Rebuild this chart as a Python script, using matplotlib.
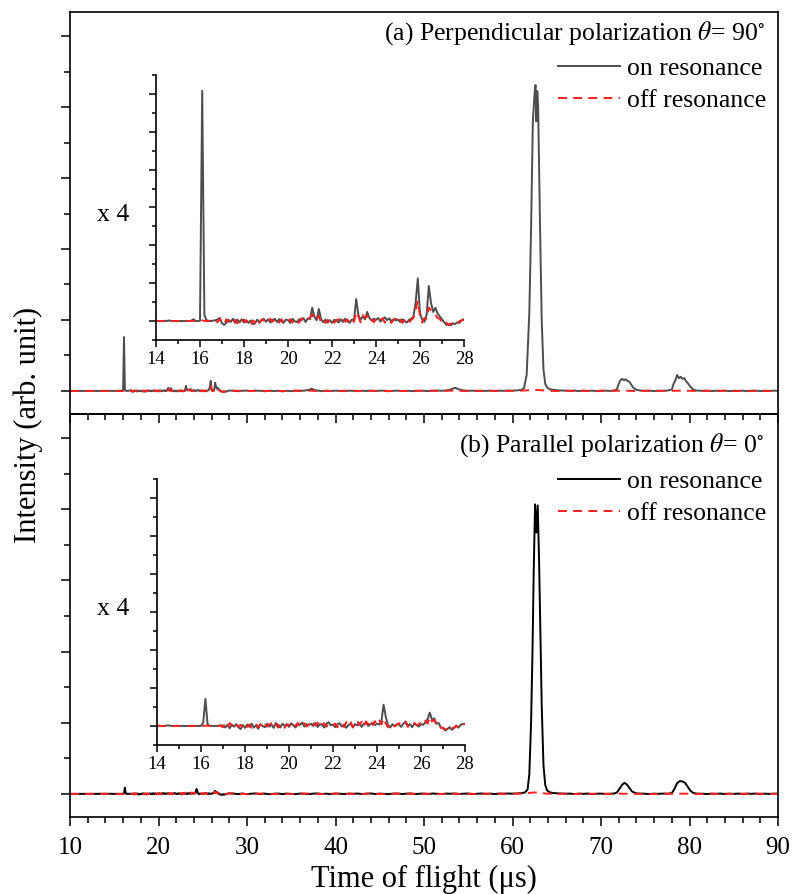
import numpy as np
import matplotlib
matplotlib.use("Agg")
import matplotlib.pyplot as plt
from matplotlib.ticker import MultipleLocator, NullFormatter

plt.rcParams['font.family'] = ['Liberation Serif', 'DejaVu Serif']
plt.rcParams['mathtext.fontset'] = 'stix'

# ---------------- data (main-panel units; inset shows x4) ----------------
fine_t = np.round(np.arange(14.0, 28.05, 0.1), 2)   # sampling grid of the 14-28 us window

top_on_fine = [
    0.000, 0.001, 0.000, 0.000, 0.002, 0.001, 0.004, 0.001, 0.000, 0.000,   # 14
    0.000, 0.001, 0.000, 0.000, 0.001, 0.000, 0.002, 0.012, 0.001, 0.000,   # 15
    0.002, 1.520, 0.040, 0.004, 0.002, 0.000, 0.003, 0.005, 0.012, 0.020,   # 16
    -0.015, -0.025, -0.010, 0.008, -0.005, 0.015, -0.012, 0.010, -0.008, 0.012,  # 17
    -0.010, 0.006, -0.012, 0.004, -0.020, -0.015, 0.010, -0.008, 0.006, 0.015,  # 18
    -0.005, 0.012, -0.010, 0.008, 0.015, -0.006, 0.012, 0.000, -0.012, 0.010,   # 19
    0.006, -0.012, 0.015, 0.000, -0.008, 0.012, 0.004, 0.020, -0.006, 0.018,    # 20
    0.012, 0.088, 0.030, 0.005, 0.080, 0.015, -0.008, 0.010, -0.010, 0.006,     # 21
    -0.012, 0.008, 0.004, -0.010, 0.012, -0.006, 0.015, 0.000, -0.012, 0.010,   # 22
    0.005, 0.145, 0.040, 0.010, 0.030, 0.012, 0.060, 0.020, 0.004, 0.015,       # 23
    0.008, 0.020, -0.004, 0.012, 0.025, 0.006, 0.018, 0.000, 0.012, 0.005,      # 24
    0.010, -0.006, 0.012, 0.000, -0.010, 0.008, 0.015, 0.030, 0.120, 0.282,     # 25
    0.050, 0.010, -0.005, 0.040, 0.232, 0.120, 0.060, 0.088, 0.050, 0.030,      # 26
    0.012, -0.008, -0.025, -0.020, -0.028, -0.015, -0.020, -0.008, -0.012, 0.008,  # 27
    0.012]

top_off_fine = [
    0.000, 0.001, 0.000, 0.000, 0.000, 0.001, 0.000, 0.000, 0.001, 0.000,
    0.000, 0.000, 0.001, 0.000, 0.000, 0.001, 0.000, 0.002, 0.000, 0.000,
    0.001, 0.004, 0.002, 0.000, 0.001, 0.000, 0.002, 0.006, -0.008, 0.015,
    -0.010, -0.020, 0.012, -0.005, 0.010, -0.012, 0.008, -0.015, 0.012, -0.006,
    0.010, -0.008, 0.012, -0.018, 0.005, -0.010, 0.015, -0.012, 0.010, 0.004,
    0.012, -0.008, 0.015, -0.004, 0.010, 0.016, -0.010, 0.012, -0.006, 0.008,
    -0.004, 0.012, -0.010, 0.014, 0.006, -0.012, 0.018, 0.008, 0.015, 0.010,
    0.020, 0.045, 0.008, 0.012, 0.035, -0.006, 0.010, -0.012, 0.008, -0.010,
    0.010, -0.012, 0.006, 0.012, -0.010, 0.008, -0.004, 0.010, -0.008, 0.012,
    -0.006, 0.060, 0.030, -0.008, 0.040, 0.020, 0.035, -0.004, 0.010, -0.008,
    0.012, -0.006, 0.010, 0.018, -0.010, 0.012, 0.004, -0.012, 0.008, 0.015,
    -0.008, 0.010, -0.012, 0.006, 0.014, -0.010, 0.008, 0.020, 0.070, 0.135,
    0.030, -0.010, 0.020, 0.015, 0.090, 0.070, 0.050, 0.040, 0.020, 0.015,
    -0.010, -0.020, -0.010, -0.028, -0.015, -0.022, -0.010, -0.015, 0.000, 0.004,
    0.008]

bot_on_fine = [
    0.000, 0.001, 0.000, 0.000, 0.002, 0.004, 0.002, 0.000, 0.000, 0.001,
    0.000, 0.000, 0.001, 0.000, 0.000, 0.001, 0.000, 0.000, 0.001, 0.000,
    0.001, 0.020, 0.178, 0.010, 0.002, 0.000, 0.001, 0.000, 0.002, 0.004,
    0.003, -0.010, 0.008, -0.015, 0.010, -0.005, 0.012, -0.008, -0.020, 0.006,
    -0.012, 0.010, -0.006, 0.015, -0.010, 0.004, -0.018, 0.012, 0.000, -0.008,
    0.015, -0.004, 0.010, -0.012, 0.020, 0.006, -0.010, 0.015, 0.000, 0.012,
    -0.006, 0.018, 0.004, -0.010, 0.015, 0.008, 0.022, -0.004, 0.012, 0.006,
    0.015, 0.000, 0.020, -0.006, 0.012, 0.008, -0.010, 0.014, 0.025, 0.004,
    0.010, -0.008, 0.012, 0.018, -0.004, 0.010, -0.012, 0.006, 0.014, -0.008,
    0.012, 0.004, 0.018, -0.006, 0.015, 0.022, 0.000, 0.012, 0.020, 0.006,
    0.015, 0.010, 0.030, 0.140, 0.060, 0.005, -0.010, 0.012, 0.000, 0.008,
    0.010, -0.006, 0.015, 0.030, 0.004, 0.012, -0.008, 0.018, 0.006, -0.004,
    0.012, 0.008, 0.025, 0.045, 0.088, 0.040, 0.050, 0.015, 0.020, -0.010,
    -0.015, -0.030, -0.020, -0.008, -0.025, -0.012, 0.000, -0.010, 0.008, 0.012,
    0.015]

bot_off_fine = [
    0.004, 0.002, 0.000, 0.001, 0.000, 0.001, 0.000, 0.000, 0.000, 0.001,
    0.000, 0.000, 0.001, 0.000, 0.000, 0.000, 0.001, 0.000, 0.000, 0.000,
    0.001, 0.000, 0.002, 0.001, 0.000, 0.001, 0.000, 0.000, 0.002, 0.000,
    -0.008, 0.015, -0.010, 0.020, 0.006, -0.012, 0.010, -0.004, 0.008, -0.010,
    0.012, -0.006, 0.010, -0.012, 0.004, 0.015, -0.008, 0.010, -0.014, 0.006,
    -0.004, 0.010, 0.018, -0.008, 0.012, -0.010, 0.015, 0.004, -0.012, 0.010,
    0.008, -0.006, 0.015, 0.000, 0.020, -0.008, 0.012, 0.018, -0.004, 0.010,
    -0.006, 0.015, 0.004, 0.022, -0.008, 0.012, 0.018, -0.004, 0.010, 0.020,
    0.006, 0.015, -0.008, 0.012, 0.020, -0.006, 0.025, 0.010, 0.030, -0.010,
    0.020, 0.035, 0.005, 0.028, -0.004, 0.030, 0.012, 0.040, 0.008, 0.032,
    0.015, 0.042, 0.010, 0.050, 0.015, -0.008, 0.010, 0.020, -0.004, 0.012,
    0.018, 0.000, 0.012, 0.025, -0.006, 0.015, 0.008, 0.020, 0.004, 0.012,
    0.020, 0.010, 0.035, 0.015, 0.060, 0.030, 0.040, 0.010, 0.015, -0.012,
    -0.010, -0.025, -0.012, -0.020, -0.008, -0.015, 0.004, -0.010, 0.006, 0.010,
    0.012]

lead_t = [10.0, 12.0]
lead_y = [0.0, 0.0]

top_on_tail = [
    (28.5, 0.005), (29, -0.008), (29.5, 0.006), (30, 0.010), (30.5, -0.005), (31, 0.008),
    (31.5, 0.004), (32, -0.008), (32.5, 0.006), (33, -0.004), (33.5, 0.005), (34, -0.010),
    (34.5, 0.004), (35, -0.006), (35.5, 0.008), (36, 0.000), (36.5, 0.010), (37, 0.030),
    (37.3, 0.065), (37.6, 0.030), (38, 0.008), (38.5, -0.005), (39, 0.006), (39.5, -0.004),
    (40, 0.008), (40.5, 0.000), (41, -0.006), (41.5, 0.006), (42, 0.004), (42.5, -0.008),
    (43, 0.006), (43.5, 0.000), (44, 0.008), (44.5, -0.004), (45, 0.006), (45.5, 0.010),
    (46, -0.006), (46.5, 0.004), (47, 0.008), (47.5, -0.004), (48, 0.006), (48.5, 0.000),
    (49, -0.006), (49.5, 0.008), (50, 0.004), (50.5, -0.004), (51, 0.006), (51.5, 0.010),
    (52, 0.004), (52.5, 0.012), (53, 0.040), (53.5, 0.090), (54, 0.040), (54.5, 0.012),
    (55, 0.004), (55.5, 0.008), (56, -0.004), (56.5, 0.006), (57, 0.000), (57.5, 0.008),
    (58, -0.004), (58.5, 0.006), (59, 0.004), (59.5, 0.010), (60, 0.006), (60.5, 0.015),
    (61, 0.030), (61.3, 0.080), (61.6, 0.45), (61.9, 2.2), (62.1, 4.6), (62.3, 7.6),
    (62.5, 8.4), (62.6, 8.62), (62.7, 7.6), (62.8, 8.45), (62.9, 8.0), (63.1, 4.8),
    (63.3, 2.0), (63.5, 0.60), (63.7, 0.20), (63.9, 0.10), (64.2, 0.050), (64.6, 0.030),
    (65, 0.020), (65.5, 0.012), (66, 0.008), (66.5, 0.004), (67, 0.010), (67.5, -0.004),
    (68, 0.006), (68.5, 0.000), (69, 0.008), (69.5, -0.006), (70, 0.004), (70.5, 0.008),
    (71, 0.000), (71.5, 0.010), (71.8, 0.050), (72.0, 0.20), (72.2, 0.30), (72.4, 0.34),
    (72.6, 0.30), (72.8, 0.33), (73.0, 0.28), (73.2, 0.26), (73.4, 0.18), (73.7, 0.08),
    (74.0, 0.030), (74.5, 0.010), (75, 0.004), (75.5, 0.008), (76, -0.004), (76.5, 0.006),
    (77, 0.002), (77.5, 0.010), (78.0, 0.040), (78.2, 0.20), (78.4, 0.30), (78.6, 0.45),
    (78.8, 0.36), (79.0, 0.40), (79.2, 0.34), (79.4, 0.36), (79.6, 0.28), (79.8, 0.22),
    (80.1, 0.12), (80.4, 0.040), (80.8, 0.010), (81.5, 0.004), (82, 0.008), (82.5, -0.004),
    (83, 0.006), (83.5, 0.002), (84, 0.008), (84.5, -0.004), (85, 0.006), (85.5, 0.000),
    (86, 0.008), (86.5, -0.006), (87, 0.004), (87.5, 0.008), (88, -0.004), (88.5, 0.006),
    (89, 0.000), (89.5, 0.008), (90, 0.004)]

top_off_tail = [
    (29, 0.004), (30, -0.006), (31, 0.006), (32, -0.004), (33, 0.008), (34, -0.006),
    (35, 0.004), (36, 0.008), (37, 0.010), (38, -0.004), (39, 0.006), (40, -0.006),
    (41, 0.004), (42, 0.008), (43, -0.004), (44, 0.006), (45, 0.002), (46, -0.006),
    (47, 0.006), (48, -0.004), (49, 0.006), (50, 0.000), (51, 0.006), (52, -0.004),
    (53, 0.010), (54, 0.004), (55, -0.006), (56, 0.006), (57, -0.004), (58, 0.006),
    (59, 0.002), (60, 0.006), (61, 0.008), (62, 0.020), (62.6, 0.030), (63.2, 0.020),
    (64, 0.006), (65, -0.004), (66, 0.006), (67, 0.000), (68, 0.006), (69, -0.004),
    (70, 0.006), (71, 0.002), (72, 0.008), (73, 0.006), (74, -0.004), (75, 0.006),
    (76, 0.000), (77, 0.006), (78, 0.004), (79, 0.008), (80, 0.004), (81, -0.004),
    (82, 0.006), (83, 0.000), (84, 0.006), (85, -0.004), (86, 0.006), (87, 0.002),
    (88, 0.006), (89, -0.004), (90, 0.004)]

bot_on_tail = [
    (28.5, 0.008), (29, -0.006), (29.5, 0.010), (30, -0.008), (30.5, 0.006), (31, 0.012),
    (31.5, -0.004), (32, 0.008), (32.5, -0.010), (33, 0.004), (33.5, 0.010), (34, -0.006),
    (34.5, 0.008), (35, 0.000), (35.5, -0.008), (36, 0.010), (36.5, 0.004), (37, -0.006),
    (37.5, 0.008), (38, 0.012), (38.5, -0.004), (39, 0.006), (39.5, -0.008), (40, 0.010),
    (40.5, 0.004), (41, -0.006), (41.5, 0.008), (42, 0.000), (42.5, 0.010), (43, -0.006),
    (43.5, 0.006), (44, 0.012), (44.5, -0.004), (45, 0.008), (45.5, 0.000), (46, -0.008),
    (46.5, 0.006), (47, 0.010), (47.5, -0.004), (48, 0.006), (48.5, 0.012), (49, -0.006),
    (49.5, 0.004), (50, 0.008), (50.5, -0.004), (51, 0.010), (51.5, 0.002), (52, -0.006),
    (52.5, 0.008), (53, 0.004), (53.5, 0.010), (54, -0.004), (54.5, 0.006), (55, 0.008),
    (55.5, -0.006), (56, 0.004), (56.5, 0.010), (57, 0.000), (57.5, 0.006), (58, -0.004),
    (58.5, 0.008), (59, 0.004), (59.5, 0.010), (60, 0.006), (60.5, 0.012), (61, 0.020),
    (61.4, 0.040), (61.7, 0.12), (61.9, 0.55), (62.1, 2.0), (62.25, 3.9), (62.4, 6.3),
    (62.55, 8.14), (62.7, 7.35), (62.85, 8.11), (63.0, 6.6), (63.15, 4.6), (63.3, 2.5),
    (63.5, 0.8), (63.7, 0.25), (63.9, 0.10), (64.2, 0.045), (64.6, 0.025), (65, 0.015),
    (65.5, 0.010), (66, 0.004), (66.5, 0.008), (67, -0.004), (67.5, 0.006), (68, 0.002),
    (68.5, 0.008), (69, -0.006), (69.5, 0.004), (70, 0.008), (70.5, 0.000), (71, 0.006),
    (71.5, 0.010), (71.8, 0.040), (72.1, 0.15), (72.4, 0.26), (72.65, 0.31), (72.9, 0.27),
    (73.2, 0.17), (73.5, 0.07), (73.9, 0.020), (74.3, 0.008), (75, 0.004), (75.5, -0.004),
    (76, 0.006), (76.5, 0.002), (77, 0.008), (77.5, 0.004), (78.0, 0.020), (78.3, 0.14),
    (78.6, 0.30), (78.9, 0.36), (79.2, 0.35), (79.5, 0.31), (79.8, 0.20), (80.1, 0.09),
    (80.4, 0.030), (80.8, 0.008), (81.5, 0.004), (82, -0.004), (82.5, 0.006), (83, 0.002),
    (83.5, 0.008), (84, -0.004), (84.5, 0.006), (85, 0.000), (85.5, 0.008), (86, -0.004),
    (86.5, 0.006), (87, 0.002), (87.5, 0.008), (88, -0.004), (88.5, 0.006), (89, 0.000),
    (89.5, 0.006), (90, 0.004)]

bot_off_tail = [
    (29, 0.006), (30, -0.008), (31, 0.004), (32, 0.010), (33, -0.006), (34, 0.008),
    (35, -0.004), (36, 0.006), (37, 0.010), (38, -0.006), (39, 0.004), (40, 0.008),
    (41, -0.004), (42, 0.006), (43, 0.000), (44, 0.008), (45, -0.006), (46, 0.004),
    (47, 0.008), (48, -0.004), (49, 0.006), (50, 0.002), (51, 0.008), (52, -0.004),
    (53, 0.006), (54, 0.000), (55, 0.006), (56, -0.004), (57, 0.006), (58, 0.002),
    (59, 0.006), (60, 0.004), (61, 0.010), (61.8, 0.025), (62.5, 0.040), (63.2, 0.020),
    (64, 0.006), (65, 0.000), (66, 0.006), (67, -0.004), (68, 0.006), (69, 0.002),
    (70, 0.006), (71, -0.004), (72, 0.006), (73, 0.004), (74, 0.000), (75, 0.006),
    (76, -0.004), (77, 0.006), (78, 0.002), (79, 0.006), (80, 0.004), (81, -0.004),
    (82, 0.006), (83, 0.000), (84, 0.006), (85, -0.004), (86, 0.006), (87, 0.002),
    (88, 0.006), (89, -0.004), (90, 0.004)]

inset_scale = 4
panel_titles = [r"(a) Perpendicular polarization $\theta$= 90$^{\circ}$",
                r"(b) Parallel polarization $\theta$= 0$^{\circ}$"]
legend_labels = ["on resonance", "off resonance"]
x_ticks = [10, 20, 30, 40, 50, 60, 70, 80, 90]
inset_x_ticks = [14, 16, 18, 20, 22, 24, 26, 28]

# ---------------- helpers ----------------
def full_series(fine, tail):
    tt = [p[0] for p in tail]
    ty = [p[1] for p in tail]
    t = np.concatenate([lead_t, fine_t, tt])
    y = np.concatenate([lead_y, fine, ty])
    return t, y

GRAY = '#4d4d4d'
RED = '#ff2020'
DASH = (0, (4.6, 3.2))

fig = plt.figure(figsize=(7.94, 8.94), dpi=100)
L, R = 70 / 794, 778 / 794
ax1 = fig.add_axes([L, 1 - 414 / 894, R - L, (414 - 12) / 894])
ax2 = fig.add_axes([L, 1 - 817 / 894, R - L, (817 - 414) / 894])
ax2.patch.set_alpha(0)
ax1.set_zorder(2)
ax1.patch.set_alpha(0)

panels = [
    (ax1, top_on_fine, top_on_tail, top_off_fine, top_off_tail, GRAY, panel_titles[0],
     [156 / 794, 1 - 340 / 894, 308 / 794, 265 / 894], 0.948, 0.90),
    (ax2, bot_on_fine, bot_on_tail, bot_off_fine, bot_off_tail, 'black', panel_titles[1],
     [157 / 794, 1 - 745 / 894, 308 / 794, 266 / 894], 0.923, 0.873),
]

for i, (ax, onf, ont, offf, offt, col, title, ipos, ty, ly) in enumerate(panels):
    t_on, y_on = full_series(onf, ont)
    t_off, y_off = full_series(offf, offt)
    h_on, = ax.plot(t_on, y_on, color=col, lw=1.4, label=legend_labels[0])
    h_off, = ax.plot(t_off, y_off, color=RED, lw=1.4, ls=DASH, label=legend_labels[1])
    ax.set_xlim(10, 90)
    ax.set_ylim(-0.65, 10.68)
    ax.yaxis.set_major_locator(MultipleLocator(2))
    ax.yaxis.set_minor_locator(MultipleLocator(1))
    ax.xaxis.set_major_locator(MultipleLocator(10))
    ax.xaxis.set_minor_locator(MultipleLocator(2))
    ax.yaxis.set_major_formatter(NullFormatter())
    ax.tick_params(axis='both', which='major', direction='out', length=6.5, width=1.1,
                   labelsize=18, pad=8)
    ax.tick_params(axis='both', which='minor', direction='out', length=4, width=1.1)
    ax.tick_params(top=False, right=False)
    for s in ax.spines.values():
        s.set_linewidth(1.2)
    if i == 0:
        ax.tick_params(axis='x', labelbottom=False)
    else:
        ax.set_xticks(x_ticks)
        ax.set_xlabel("Time of flight (μs)", fontsize=22, labelpad=4)

    ax.text(0.981, ty, title, transform=ax.transAxes, ha='right', va='center',
            fontsize=18.5)
    ax.legend(handles=[h_on, h_off], loc='upper right', bbox_to_anchor=(0.99, ly),
              frameon=False, fontsize=18.5, handlelength=2.4, handletextpad=0.25,
              labelspacing=0.32, borderpad=0.2, borderaxespad=0.0)

    ins = fig.add_axes(ipos)
    ins.set_zorder(3)
    ins.plot(fine_t, inset_scale * np.asarray(onf), color=GRAY, lw=1.4)
    ins.plot(fine_t, inset_scale * np.asarray(offf), color=RED, lw=1.4, ls=DASH)
    ins.set_xlim(14, 28)
    ins.set_ylim(-0.5, 6.5)
    ins.set_xticks(inset_x_ticks)
    ins.xaxis.set_minor_locator(MultipleLocator(1))
    ins.yaxis.set_major_locator(MultipleLocator(1))
    ins.yaxis.set_minor_locator(MultipleLocator(0.5))
    ins.yaxis.set_major_formatter(NullFormatter())
    ins.spines['top'].set_visible(False)
    ins.spines['right'].set_visible(False)
    for s in ('left', 'bottom'):
        ins.spines[s].set_linewidth(1.2)
    ins.tick_params(axis='both', which='major', direction='out', length=5, width=1.1,
                    labelsize=13.5, pad=3)
    ins.tick_params(axis='both', which='minor', direction='out', length=3, width=1.1)
    ins.patch.set_alpha(0)
    fig.text(97 / 794, 1 - (215 if i == 0 else 609) / 894, "x 4", fontsize=18.5,
             ha='left', va='center')

fig.text(28 / 794, 1 - 425 / 894, "Intensity (arb. unit)", rotation=90, fontsize=22,
         ha='center', va='center')

fig.savefig("out.png", dpi=100)
